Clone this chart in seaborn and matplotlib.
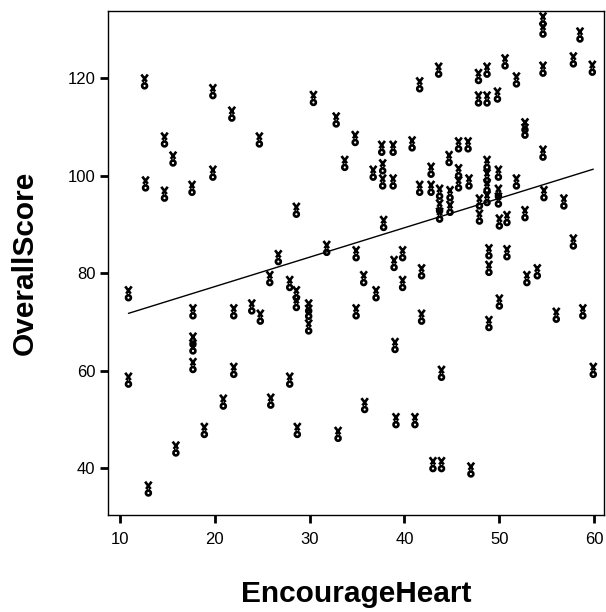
import numpy as np
import pandas as pd
import matplotlib
matplotlib.use("Agg")
import matplotlib.pyplot as plt
from matplotlib.path import Path
import seaborn as sns

# EncourageHeart scores
encourage_heart = [
    12.6, 19.8, 21.8, 24.7, 14.7, 15.6, 19.8, 12.7, 14.7, 17.6,
    54.6, 54.6, 58.5, 50.6, 57.8, 59.8, 54.6, 51.8, 47.8, 48.7,
    43.6, 41.6, 47.8, 48.7, 49.8, 30.4, 32.8, 52.7, 52.7, 34.8,
    37.6, 38.8, 40.8, 45.7, 46.7, 54.6, 33.7, 36.7, 37.7, 37.7,
    38.8, 42.8, 44.7, 45.7, 45.7, 46.8, 48.7, 48.7, 48.7, 49.9,
    51.8, 41.6, 42.8, 43.7, 44.8, 43.7, 43.7, 44.8, 47.9, 48.7,
    49.9, 49.9, 47.9, 50.0, 50.8, 52.7, 54.7, 56.8, 37.8, 57.8,
    31.8, 34.9, 38.9, 39.8, 48.9, 48.9, 50.8, 52.9, 54.0, 35.7,
    37.0, 39.8, 41.8, 50.0, 29.9, 29.9, 34.9, 41.8, 48.9, 56.0,
    58.8, 39.0, 43.9, 59.9, 28.6, 26.7, 25.8, 27.9, 28.6, 28.6,
    10.9, 17.7, 22.0, 23.9, 24.8, 17.7, 17.7, 17.7, 22.0, 10.9,
    27.9, 20.9, 25.9, 18.9, 28.7, 15.9, 13.0, 35.8, 33.0, 39.1,
    41.1, 43.0, 43.9, 47.0, 29.9,
]

# OverallScore values
overall_score = [
    119.2, 117.2, 112.6, 107.3, 107.3, 103.4, 100.5, 98.3, 96.2, 97.4,
    131.9, 129.8, 128.8, 123.3, 123.7, 122.0, 121.8, 119.6, 120.3, 121.6,
    121.6, 118.6, 115.7, 115.7, 116.5, 115.8, 111.4, 110.2, 109.1, 107.6,
    105.6, 105.6, 106.5, 106.3, 106.3, 104.6, 102.5, 100.5, 101.8, 98.7,
    98.7, 101.1, 103.5, 100.8, 98.3, 98.7, 102.5, 99.8, 97.8, 100.5,
    98.7, 97.4, 97.4, 96.6, 96.3, 93.6, 91.9, 93.3, 94.6, 95.3,
    96.6, 95.0, 91.5, 90.5, 91.2, 92.2, 96.3, 94.6, 90.2, 86.4,
    85.1, 84.0, 82.0, 84.0, 84.4, 81.0, 84.2, 78.9, 80.3, 78.9,
    75.8, 77.9, 80.3, 74.1, 73.1, 69.0, 72.1, 71.0, 69.7, 71.4,
    72.1, 65.2, 59.5, 60.1, 92.9, 83.2, 78.9, 77.9, 75.8, 73.8,
    75.8, 72.1, 72.1, 73.1, 71.0, 66.3, 64.9, 61.1, 60.1, 58.1,
    58.1, 53.6, 53.8, 47.8, 47.8, 44.0, 35.8, 52.9, 47.0, 49.8,
    49.8, 40.8, 40.8, 39.7, 72.0,
]

x_ticks = [10, 20, 30, 40, 50, 60]
y_ticks = [40, 60, 80, 100, 120]

df = pd.DataFrame({"EncourageHeart": encourage_heart,
                   "OverallScore": overall_score})

# Point glyph: a small cross sitting on top of a ring
ring = Path.circle((0.0, -0.5), 0.3)
cross = Path([(-0.4, 0.9), (0.28, 0.0), (0.4, 0.9), (-0.28, 0.0)],
             [Path.MOVETO, Path.LINETO, Path.MOVETO, Path.LINETO])
glyph = Path.make_compound_path(ring, cross)

sns.set_theme(style="white")
plt.rcParams["font.family"] = ["Liberation Sans", "DejaVu Sans"]

fig = plt.figure(figsize=(6.06, 6.12), dpi=100)
ax = fig.add_axes([0.178, 0.158, 0.819, 0.824])

sns.regplot(data=df, x="EncourageHeart", y="OverallScore", ax=ax, ci=None,
            marker=glyph,
            scatter_kws=dict(s=110, facecolors="none", edgecolors="black",
                             linewidths=1.9, alpha=1.0),
            line_kws=dict(color="black", linewidth=1.0))

ax.set_xlim(8.73, 61.05)
ax.set_ylim(30.4, 133.7)
ax.set_xticks(x_ticks)
ax.set_yticks(y_ticks)
ax.tick_params(axis="both", direction="out", length=6, width=2,
               color="black", labelsize=12, labelcolor="black", pad=3,
               left=True, bottom=True)
ax.tick_params(axis="x", pad=6)

for side in ["left", "bottom", "top", "right"]:
    ax.spines[side].set_visible(True)
    ax.spines[side].set_color("black")
    ax.spines[side].set_linewidth(1.0)

ax.set_xlabel("EncourageHeart", fontsize=21.5, fontweight="bold",
              color="black", labelpad=24)
ax.set_ylabel("OverallScore", fontsize=21.5, fontweight="bold",
              color="black", labelpad=21)

fig.savefig("out.png", dpi=100, facecolor="white")
